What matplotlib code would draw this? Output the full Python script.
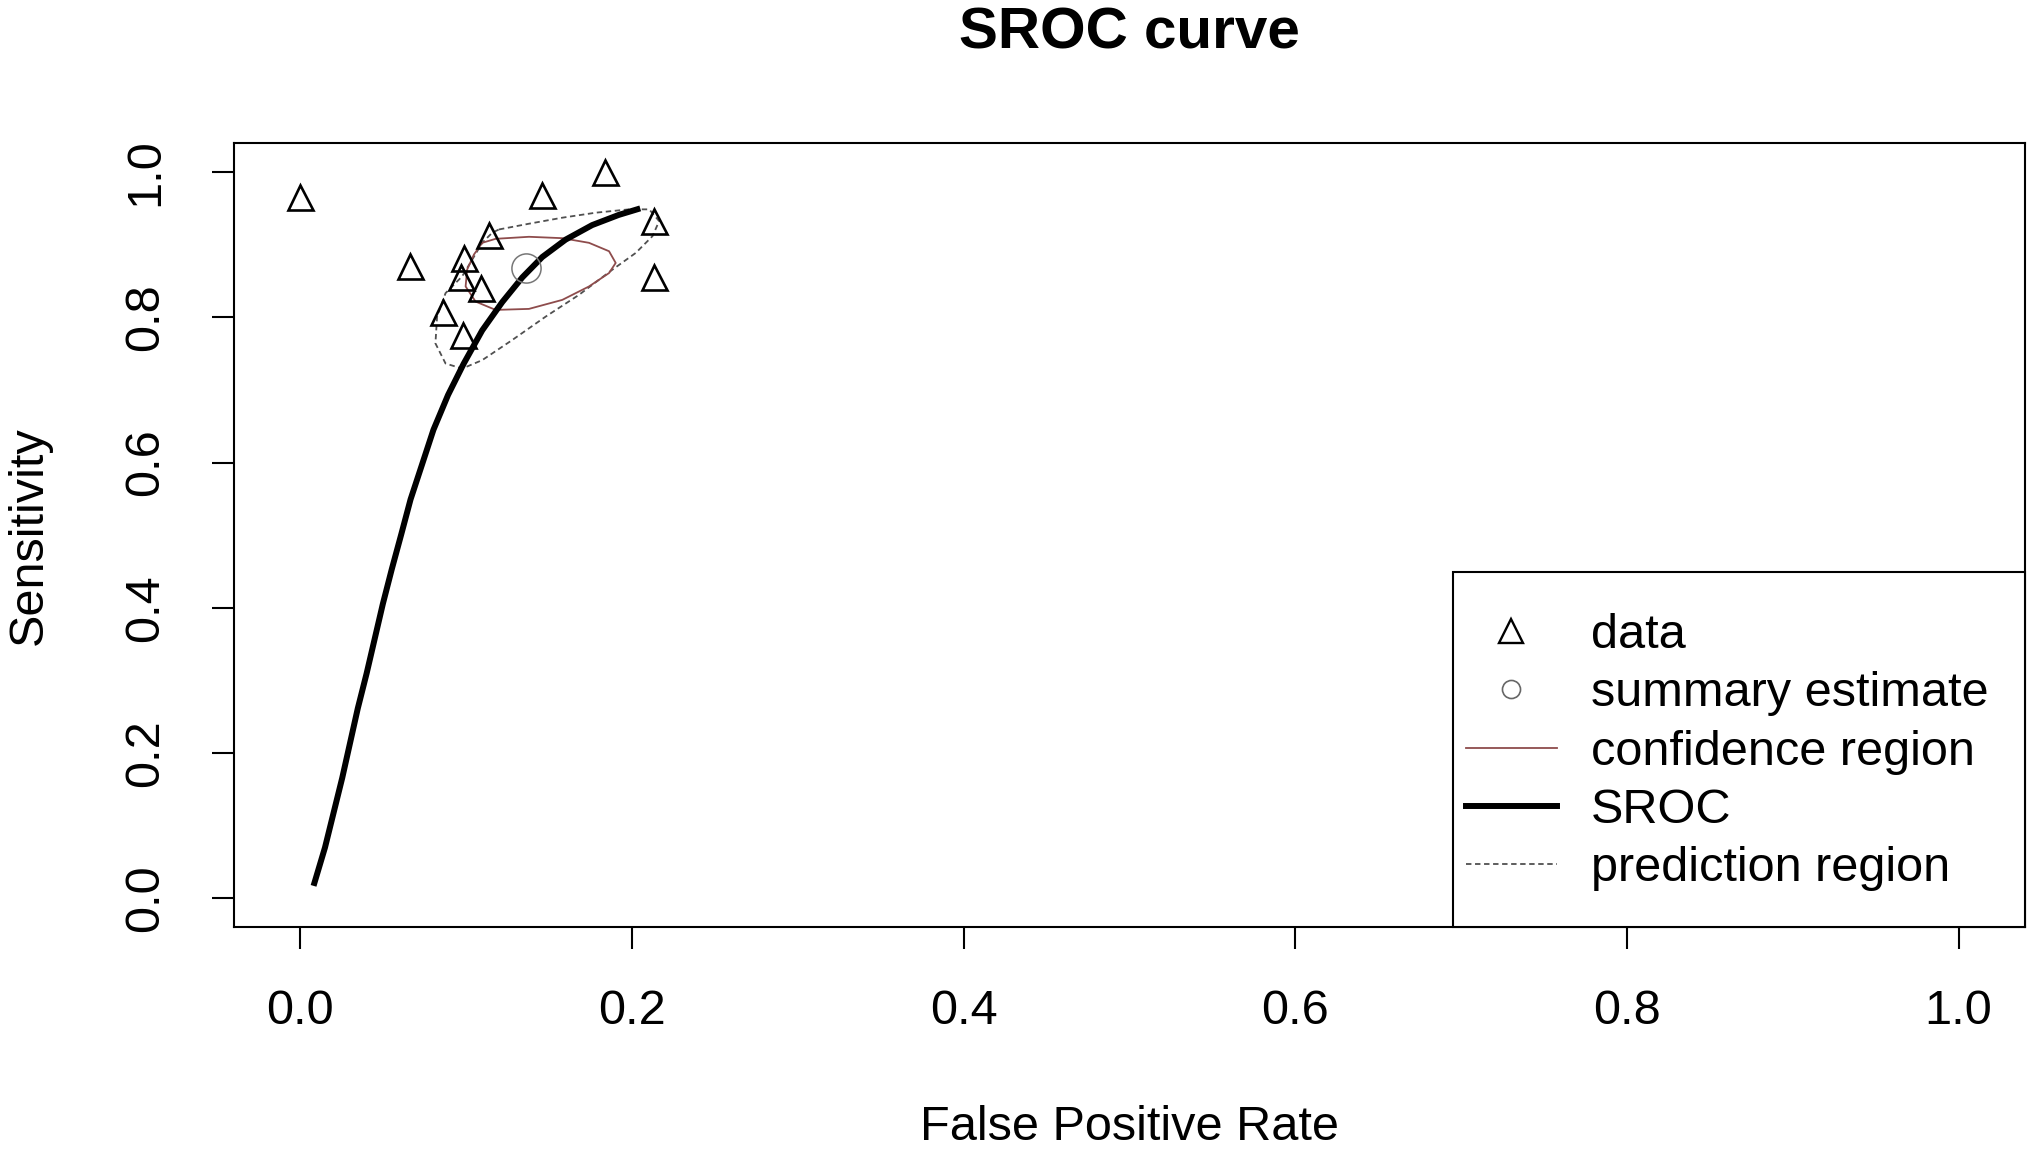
import matplotlib.pyplot as plt
from matplotlib.lines import Line2D
from matplotlib.patches import Rectangle

plt.rcParams['font.family'] = ['Liberation Sans', 'DejaVu Sans']

# study points (FPR, sensitivity)
fpr = [0.000, 0.066, 0.146, 0.184, 0.114, 0.099, 0.097, 0.109, 0.086, 0.098, 0.213, 0.213]
sens = [0.966, 0.870, 0.969, 1.000, 0.914, 0.882, 0.855, 0.841, 0.808, 0.776, 0.855, 0.932]

# summary estimate
sum_fpr = [0.136]
sum_sens = [0.868]

# SROC curve
sroc_x = [0.008, 0.0149, 0.0253, 0.0347, 0.040, 0.0498, 0.0552, 0.0609, 0.0665,
          0.0734, 0.0803, 0.0891, 0.0985, 0.1097, 0.1218, 0.1339, 0.1459,
          0.160, 0.176, 0.192, 0.205]
sroc_y = [0.017, 0.0698, 0.1657, 0.2616, 0.3095, 0.4054, 0.4533, 0.5012, 0.5492,
          0.5971, 0.6451, 0.6930, 0.736, 0.782, 0.821, 0.855, 0.883,
          0.907, 0.927, 0.941, 0.950]

# confidence region outline
conf_x = [0.1097, 0.1178, 0.1379, 0.1580, 0.1741, 0.1862, 0.1902, 0.1862, 0.1741,
          0.1580, 0.1379, 0.1178, 0.1057, 0.0997, 0.1006, 0.1047, 0.1097]
conf_y = [0.9026, 0.9081, 0.9109, 0.9090, 0.9026, 0.8910, 0.8749, 0.8610, 0.8425,
          0.8240, 0.8116, 0.8102, 0.8217, 0.8425, 0.8656, 0.8864, 0.9026]

# prediction region outline
pred_x = [0.1198, 0.1379, 0.1580, 0.1782, 0.1983, 0.2104, 0.2164, 0.2124, 0.2023,
          0.1882, 0.1681, 0.1480, 0.1278, 0.1097, 0.0976, 0.0876, 0.0815, 0.0825,
          0.0876, 0.0976, 0.1037, 0.1097, 0.1157, 0.1198]
pred_y = [0.9210, 0.9289, 0.9372, 0.9441, 0.9487, 0.9487, 0.9325, 0.9118, 0.8887,
          0.8656, 0.8310, 0.8010, 0.7687, 0.7410, 0.7294, 0.7364, 0.7641, 0.8010,
          0.8333, 0.8564, 0.8795, 0.9026, 0.9164, 0.9210]

ticks = [0.0, 0.2, 0.4, 0.6, 0.8, 1.0]

conf_col = '#8e4c4c'
pred_col = '#505050'
fs = 35

fig = plt.figure(figsize=(20.29, 11.49), dpi=100)
ax = fig.add_axes([0.1153, 0.193, 0.8827, 0.6825])

ax.plot(pred_x, pred_y, color=pred_col, lw=1.3, linestyle=(0, (3, 2)))
ax.plot(conf_x, conf_y, color=conf_col, lw=1.3)
ax.plot(sroc_x, sroc_y, color='black', lw=4.3, solid_capstyle='butt')
ax.plot(fpr, sens, linestyle='none', marker='^', markersize=18,
        markerfacecolor='none', markeredgecolor='black', markeredgewidth=1.9)
ax.plot(sum_fpr, sum_sens, linestyle='none', marker='o', markersize=21,
        markerfacecolor='none', markeredgecolor='#777777', markeredgewidth=1.1)

ax.set_xlim(-0.04, 1.04)
ax.set_ylim(-0.04, 1.04)
ax.set_xticks(ticks)
ax.set_yticks(ticks)
ax.set_xticklabels(['%.1f' % t for t in ticks])
ax.set_yticklabels(['%.1f' % t for t in ticks], rotation=90, va='center')
ax.tick_params(axis='both', length=15.8, width=1.5, labelsize=fs, direction='out')
ax.tick_params(axis='x', pad=29)
ax.tick_params(axis='y', pad=31.5)
for s in ax.spines.values():
    s.set_linewidth(1.5)

ax.set_xlabel('False Positive Rate', fontsize=fs, va='center')
ax.xaxis.set_label_coords(0.5, -0.256)
ax.set_ylabel('Sensitivity', fontsize=fs, va='center')
ax.yaxis.set_label_coords(-0.1145, 0.5)
ax.set_title('SROC curve', fontsize=42, fontweight='bold', y=1.1286, va='center')

# legend box flush with the bottom right corner, like R's legend("bottomright")
box = Rectangle((0.6806, 0.0), 1 - 0.6806, 0.4528, transform=ax.transAxes,
                facecolor='white', edgecolor='black', lw=1.5, zorder=4, clip_on=False)
ax.add_patch(box)

handles = [
    Line2D([], [], linestyle='none', marker='^', markersize=17, markerfacecolor='none',
           markeredgecolor='black', markeredgewidth=1.7),
    Line2D([], [], linestyle='none', marker='o', markersize=13, markerfacecolor='none',
           markeredgecolor='#666666', markeredgewidth=1.2),
    Line2D([], [], color=conf_col, lw=1.3),
    Line2D([], [], color='black', lw=4.3),
    Line2D([], [], color=pred_col, lw=1.3, linestyle=(0, (3, 2))),
]
labels = ['data', 'summary estimate', 'confidence region', 'SROC', 'prediction region']
leg = ax.legend(handles, labels, loc='upper left', bbox_to_anchor=(0.6879, 0.4005),
                borderaxespad=0, borderpad=0, fontsize=fs, frameon=False,
                handlelength=1.87, handletextpad=0.7, labelspacing=0.274)
leg.set_zorder(5)

plt.savefig('out.png', dpi=100)
